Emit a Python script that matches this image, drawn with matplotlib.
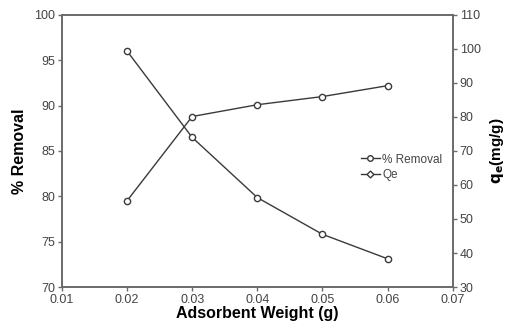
import matplotlib
matplotlib.use('Agg')
import matplotlib.pyplot as plt
from matplotlib.lines import Line2D

plt.rcParams['font.family'] = ['Liberation Sans', 'DejaVu Sans']

weight = [0.02, 0.03, 0.04, 0.05, 0.06]
removal = [79.5, 88.8, 90.1, 91.0, 92.2]
qe = [99.4, 74.0, 56.3, 45.5, 38.3]

INK = '#3a3a3a'
AX = '#6a6a6a'

fig = plt.figure(figsize=(5.07, 3.32), dpi=100)
ax = fig.add_axes([0.122, 0.1355, 0.771, 0.8195])
ax2 = ax.twinx()

mk = dict(color=INK, lw=1.0, marker='o', ms=4.5, mfc='white', mec=INK, mew=1.0)
ax.plot(weight, removal, zorder=3, **mk)
ax2.plot(weight, qe, zorder=3, **mk)

ax.set_xlim(0.01, 0.07)
ax.set_ylim(70, 100)
ax2.set_ylim(30, 110)
ax.set_xticks([0.01, 0.02, 0.03, 0.04, 0.05, 0.06, 0.07])
ax.set_xticklabels(['0.01', '0.02', '0.03', '0.04', '0.05', '0.06', '0.07'])
ax.set_yticks(range(70, 101, 5))
ax2.set_yticks(range(30, 111, 10))

for a in (ax, ax2):
    for s in a.spines.values():
        s.set_color(AX)
        s.set_linewidth(1.2)
    a.tick_params(colors=AX, labelcolor='#444444', labelsize=9, length=3, width=1, pad=2)

ax.set_xlabel('Adsorbent Weight (g)', fontsize=11.5, fontweight='bold', labelpad=0)
ax.set_ylabel('% Removal', fontsize=11.5, fontweight='bold', labelpad=5)
ax2.set_ylabel(r'$\mathbf{q_e}$(mg/g)', fontsize=11, fontweight='bold', labelpad=5)

handles = [
    Line2D([], [], color=INK, lw=1.0, marker='o', ms=4, mfc='white', mec=INK),
    Line2D([], [], color=INK, lw=1.0, marker='D', ms=3.5, mfc='white', mec=INK),
]
ax2.legend(handles, ['% Removal', 'Qe'], loc='center left', bbox_to_anchor=(0.75, 0.44),
           frameon=False, fontsize=8.5, handlelength=1.6, handletextpad=0.2,
           labelspacing=0.3, labelcolor='#444444', borderpad=0)

fig.savefig('out.png', dpi=100, facecolor='white')
